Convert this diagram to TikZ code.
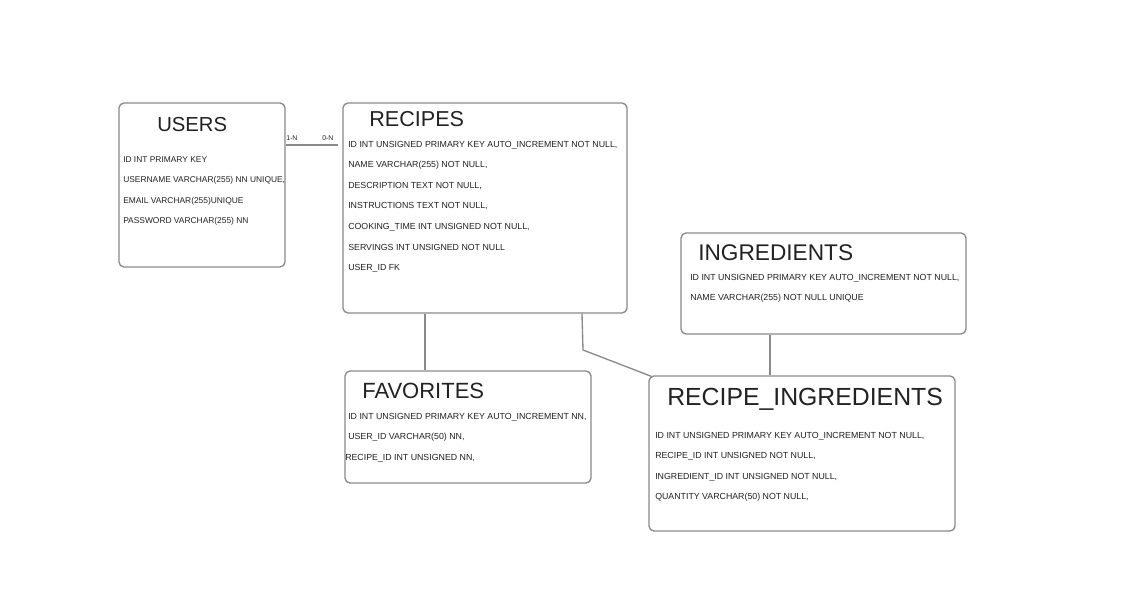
\documentclass[tikz,border=0pt]{standalone}
\usepackage{fontspec}
\setmainfont{Liberation Sans}
\usetikzlibrary{fit}
\definecolor{boxgray}{HTML}{8A8A8A}
\definecolor{txt}{HTML}{222222}
\tikzset{
  box/.style={draw=boxgray, line width=1pt, rounded corners=3.75pt, inner sep=0pt, fill=white},
  conn/.style={draw=boxgray, line width=1pt},
  title/.style={anchor=base west, inner sep=0pt, text=txt},
  field/.style={anchor=base west, inner sep=0pt, text=txt, font=\fontsize{6.6}{7}\selectfont},
  sfield/.style={field, font=\fontsize{6.3}{7}\selectfont},
  card/.style={anchor=base west, inner sep=0pt, text=txt, font=\fontsize{5.2}{6}\selectfont},
}
\begin{document}
\begin{tikzpicture}[x=0.75pt,y=-0.75pt]
\useasboundingbox[fill=white] (0,0) rectangle (1133,591);
% boxes
\node[box, fit={(119,103) (285,267)}] (users) {};
\node[box, fit={(343,103) (627,313)}] (recipes) {};
\node[box, fit={(681,233) (966,334)}] (ingr) {};
\node[box, fit={(345,371) (591,483)}] (fav) {};
\node[box, fit={(649,376) (955,531)}] (ri) {};
% helper coordinates
\coordinate (ur) at (338,145);
\coordinate (fx) at (425,0);
\coordinate (rx) at (582,0);
\coordinate (bend) at (583,350);
\coordinate (ix) at (770,0);
% connectors
\draw[conn] (users.north east |- ur) -- (ur);
\draw[conn] (recipes.south -| fx) -- (fav.north -| fx);
\draw[conn] (recipes.south -| rx) -- (bend) -- ([xshift=2.25pt,yshift=-0.75pt]ri.north west);
\draw[conn] (ingr.south -| ix) -- (ri.north -| ix);
% cardinalities
\node[card] (c1) at (286,141) {1-N};
\node[card] (c2) at (322,141) {0-N};
% titles
\node[title, font=\fontsize{15.2}{16}\selectfont] (tu) at (157,132) {USERS};
\node[title, font=\fontsize{16.2}{17}\selectfont] (tr) at (369,127) {RECIPES};
\node[title, font=\fontsize{17}{18}\selectfont] (ti) at (698,261) {INGREDIENTS};
\node[title, font=\fontsize{16.5}{17}\selectfont] (tf) at (362,399) {FAVORITES};
\node[title, font=\fontsize{18.6}{19}\selectfont] (tri) at (667,406) {RECIPE\_INGREDIENTS};
% users fields
\node[sfield] (u1) at (123,162.5) {ID INT PRIMARY KEY};
\node[sfield] (u2) at (123,182.5) {USERNAME VARCHAR(255) NN UNIQUE,};
\node[sfield] (u3) at (123,203.5) {EMAIL VARCHAR(255)UNIQUE};
\node[sfield] (u4) at (123,223.5) {PASSWORD VARCHAR(255) NN};
% recipes fields
\node[field] (r1) at (348,147.5) {ID INT UNSIGNED PRIMARY KEY AUTO\_INCREMENT NOT NULL,};
\node[field] (r2) at (348,167.5) {NAME VARCHAR(255) NOT NULL,};
\node[field] (r3) at (348,188.5) {DESCRIPTION TEXT NOT NULL,};
\node[field] (r4) at (348,208.5) {INSTRUCTIONS TEXT NOT NULL,};
\node[field] (r5) at (348,229.5) {COOKING\_TIME INT UNSIGNED NOT NULL,};
\node[field] (r6) at (348,250.5) {SERVINGS INT UNSIGNED NOT NULL};
\node[field] (r7) at (348,270.5) {USER\_ID FK};
% ingredients fields
\node[field] (i1) at (690,280.5) {ID INT UNSIGNED PRIMARY KEY AUTO\_INCREMENT NOT NULL,};
\node[field] (i2) at (690,300.5) {NAME VARCHAR(255) NOT NULL UNIQUE};
% favorites fields
\node[field] (f1) at (348,419.5) {ID INT UNSIGNED PRIMARY KEY AUTO\_INCREMENT NN,};
\node[field] (f2) at (348,439.5) {USER\_ID VARCHAR(50) NN,};
\node[field] (f3) at (345,460.5) {RECIPE\_ID INT UNSIGNED NN,};
% recipe_ingredients fields
\node[field] (g1) at (655,438.5) {ID INT UNSIGNED PRIMARY KEY AUTO\_INCREMENT NOT NULL,};
\node[field] (g2) at (655,458.5) {RECIPE\_ID INT UNSIGNED NOT NULL,};
\node[field] (g3) at (655,479.5) {INGREDIENT\_ID INT UNSIGNED NOT NULL,};
\node[field] (g4) at (655,499.5) {QUANTITY VARCHAR(50) NOT NULL,};
\end{tikzpicture}
\end{document}
